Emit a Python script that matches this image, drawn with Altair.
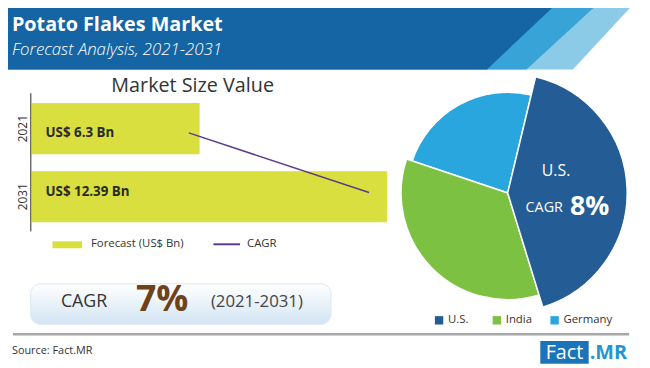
import math
import altair as alt
import pandas as pd

# ---------------- data ----------------
years = ["2021", "2031"]
market_value = [6.3, 12.39]
value_labels = ["US$ 6.3 Bn", "US$ 12.39 Bn"]
cagr_line_value = [5.95, 11.8]
series_names = ["Forecast (US$ Bn)", "CAGR"]
countries = ["U.S.", "India", "Germany"]
country_share = [41.5, 34.9, 23.6]
country_colors = ["#245d95", "#7dc143", "#2aa6de"]

title_text = "Potato Flakes Market"
subtitle_text = "Forecast Analysis, 2021-2031"
panel_title = "Market Size Value"
cagr_word = "CAGR"
cagr_overall = "7%"
cagr_period = "(2021-2031)"
us_label = "U.S."
us_cagr = "8%"
source_text = "Source: Fact.MR"
logo_a = "Fact"
logo_b = ".MR"

# ---------------- layout helpers ----------------
W, H = 642, 360
M = 8  # page margin


def px(v):
    return v - M


FONT = "Open Sans"
one = pd.DataFrame({"_": [0]})


def txt(text, x, y, size, color="#333333", weight="normal", align="left",
        baseline="middle", style="normal", font=FONT):
    return alt.Chart(one).mark_text(
        text=text, fontSize=size, color=color, fontWeight=weight, align=align,
        baseline=baseline, fontStyle=style, font=font
    ).encode(x=alt.value(px(x)), y=alt.value(px(y)))


# ---------------- header ----------------
def band(top_x, bottom_x, color):
    d = pd.DataFrame({"y": [px(0), px(68)], "x": [px(top_x), px(bottom_x)], "x0": [px(0), px(0)]})
    return alt.Chart(d).mark_area(orient="horizontal", color=color).encode(
        y=alt.Y("y:Q", scale=None), x=alt.X("x:Q", scale=None), x2="x0:Q"
    )


header = [
    band(643, 580, "#8ccbe7"),
    band(607, 533, "#37a3d7"),
    band(565, 493, "#1565a5"),
    txt(title_text, 12, 29, 20, "white", "bold", baseline="alphabetic"),
    txt(subtitle_text, 12, 53, 17, "white", 300, baseline="alphabetic", style="italic"),
]

# ---------------- bar panel ----------------
axis_min = 0.85
bars_df = pd.DataFrame({"year": years, "value": market_value,
                        "label": value_labels, "cagr": cagr_line_value})
xscale = alt.Scale(domain=[axis_min, 12.39], range=[px(32), px(392)], zero=False, nice=False)
yscale = alt.Scale(domain=years, range=[px(102), px(102) + 69 * 1.75],
                   paddingInner=0.25, paddingOuter=0)

bars = alt.Chart(bars_df).mark_bar(color="#d8df3e").encode(
    x=alt.X("value:Q", scale=xscale, axis=None, stack=None),
    x2=alt.X2(datum=axis_min),
    y=alt.Y("year:N", scale=yscale, sort=years,
            axis=alt.Axis(title=None, domain=False, ticks=False, labelAngle=270,
                          labelAlign="center", labelBaseline="bottom", labelPadding=1,
                          offset=-px(31), labelFont=FONT, labelFontSize=12,
                          labelColor="#333333")),
)
bar_text = alt.Chart(bars_df).mark_text(
    align="left", baseline="middle", fontSize=13.5, fontWeight="bold",
    color="#2a2a2a", font=FONT
).encode(
    x=alt.value(px(46)),
    y=alt.Y("year:N", scale=yscale, sort=years, axis=None),
    text="label:N",
)
cagr_line = alt.Chart(bars_df).mark_line(color="#5b3b8c", strokeWidth=1.5).encode(
    x=alt.X("cagr:Q", scale=xscale, axis=None),
    y=alt.Y("year:N", scale=yscale, sort=years, axis=None),
)
axis_rule = alt.Chart(one).mark_rule(color="#6b6b6b", strokeWidth=1.5).encode(
    x=alt.value(px(31)), y=alt.value(px(92)), y2=alt.value(px(232))
)

legend_bar = alt.Chart(one).mark_rect(color="#d8df3e").encode(
    x=alt.value(px(53)), x2=alt.value(px(83)), y=alt.value(px(242)), y2=alt.value(px(249))
)
legend_line = alt.Chart(one).mark_rule(color="#5b3b8c", strokeWidth=2).encode(
    x=alt.value(px(216)), x2=alt.value(px(243)), y=alt.value(px(245))
)

bar_panel = [
    txt(panel_title, 195, 85, 20, "#333333", align="center"),
    bars, bar_text, cagr_line, axis_rule,
    legend_bar, txt(series_names[0], 92, 245, 11.5, "#333333"),
    legend_line, txt(series_names[1], 250, 245, 11.5, "#333333"),
]

# ---------------- CAGR box ----------------
box = alt.Chart(one).mark_rect(
    cornerRadius=10, stroke="#dbe7f2", strokeWidth=1,
    color=alt.Gradient(gradient="linear",
                       stops=[alt.GradientStop(color="#ffffff", offset=0),
                              alt.GradientStop(color="#d2e4f3", offset=1)],
                       x1=0, x2=0, y1=0, y2=1),
).encode(x=alt.value(px(31)), x2=alt.value(px(335)), y=alt.value(px(285)), y2=alt.value(px(326)))

cagr_box = [
    box,
    txt(cagr_word, 85, 303, 18, "#333333", align="center"),
    txt(cagr_overall, 164, 302, 36, "#6e4219", "bold", align="center"),
    txt(cagr_period, 260, 303, 17, "#444444", align="center"),
]

# ---------------- pie ----------------
pie_df = pd.DataFrame({"country": countries, "share": country_share,
                       "rank": list(range(len(countries)))})
start = math.radians(13.5)
theta = alt.Theta("share:Q", stack=True,
                  scale=alt.Scale(domain=[0, sum(country_share)], range=[start, start + 2 * math.pi]))
color = alt.Color("country:N", scale=alt.Scale(domain=countries, range=country_colors), legend=None)

radii = {"Germany": 102, "India": 108, "U.S.": 121}
pie_layers = []
for c in ["Germany", "India", "U.S."]:
    pie_layers.append(
        alt.Chart(pie_df).mark_arc(radius=radii[c], stroke="white", strokeWidth=1.5).encode(
            theta=theta, color=color, order=alt.Order("rank:Q"),
            opacity=alt.condition(alt.datum.country == c, alt.value(1), alt.value(0)),
            x=alt.value(px(514)), y=alt.value(px(193)),
        )
    )

pie_text = [
    txt(us_label, 563, 171, 16, "white", align="center"),
    txt(cagr_word, 551, 208, 14.5, "white", align="center"),
    txt(us_cagr, 597, 207, 27, "white", "bold", align="center"),
]

leg_df = pd.DataFrame({"country": countries})
leg_x = alt.X("country:N", sort=countries,
              scale=alt.Scale(type="point", domain=countries, range=[px(444.5), px(561.5)],
                              padding=0),
              axis=None)
leg_sq = alt.Chart(leg_df).mark_square(size=72, opacity=1).encode(
    x=leg_x, y=alt.value(px(322)), color=color
)
leg_tx = alt.Chart(leg_df).mark_text(align="left", baseline="middle", dx=9, fontSize=11.5,
                                     color="#333333", font=FONT).encode(
    x=leg_x, y=alt.value(px(322)), text="country:N"
)

# ---------------- footer ----------------
sep = alt.Chart(one).mark_rule(color="#a8a8a8", strokeWidth=2.5).encode(
    x=alt.value(px(13)), x2=alt.value(px(637)), y=alt.value(px(336))
)
logo_box = alt.Chart(one).mark_rect(color="#1b74ba").encode(
    x=alt.value(px(547)), x2=alt.value(px(596)), y=alt.value(px(343)), y2=alt.value(px(366))
)
footer = [
    sep,
    txt(source_text, 12, 353, 11, "#333333"),
    logo_box,
    txt(logo_a, 571.5, 355, 20, "white", align="center"),
    txt(logo_b, 597, 355, 20, "#2196d3", "bold"),
]

chart = alt.layer(
    *header, *bar_panel, *cagr_box, *pie_layers, *pie_text, leg_sq, leg_tx, *footer
).resolve_scale(
    x="independent", y="independent"
).properties(
    width=W, height=H, padding=0, autosize=alt.AutoSizeParams(type="none"),
    background="white"
).configure_view(stroke=None)

chart.save("out.html", embed_options={"renderer": "svg", "actions": False})
